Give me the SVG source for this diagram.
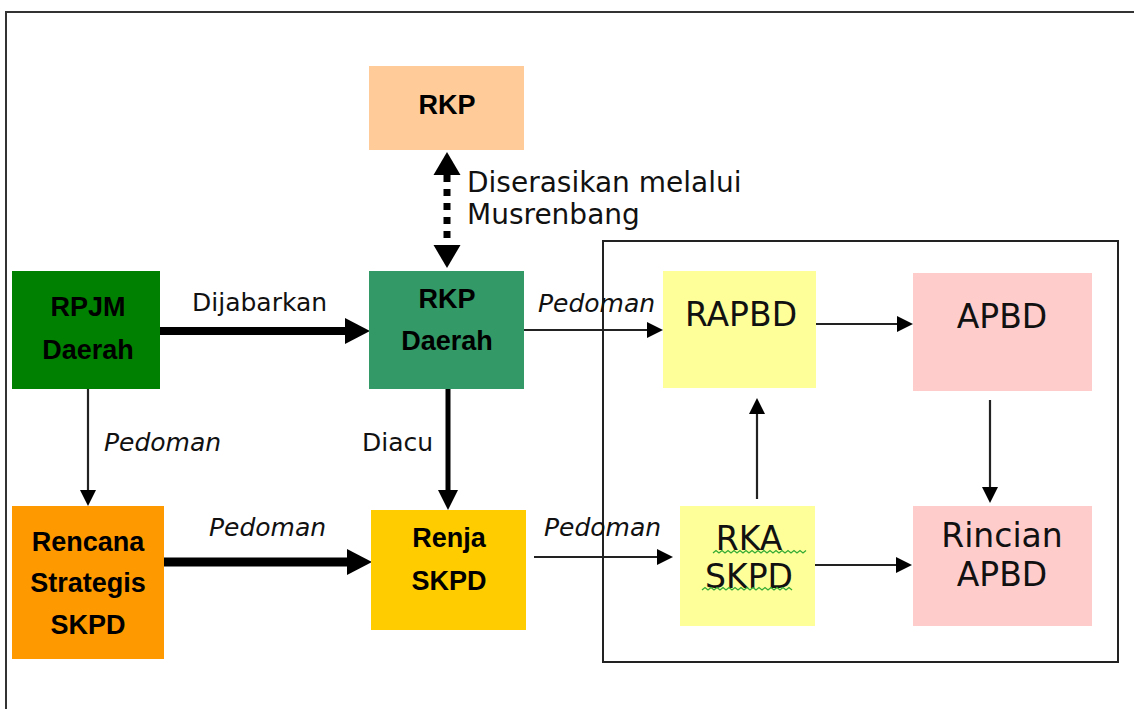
<svg xmlns="http://www.w3.org/2000/svg" width="1134" height="709" viewBox="0 0 1134 709">
<style>
.bx{stroke:none}
.bl{font-family:"Liberation Sans",Arial,sans-serif;font-weight:bold;font-size:27px;fill:#000;text-anchor:middle}
.rg{font-family:"DejaVu Sans",Verdana,sans-serif;font-size:33px;fill:#111;text-anchor:middle}
.lb{font-family:"DejaVu Sans",Verdana,sans-serif;font-size:25px;fill:#111}
.it{font-family:"DejaVu Sans",Verdana,sans-serif;font-size:25px;font-style:italic;fill:#111}
.thin{stroke:#222;stroke-width:2.2;fill:none;marker-end:url(#ms)}
.sq{stroke:#3a3;stroke-width:1.3;fill:none}
</style>
<defs>
<marker id="ms" markerUnits="userSpaceOnUse" viewBox="0 -8 16 16" markerWidth="16" markerHeight="16" refX="0" refY="0" orient="auto"><path d="M0,-8 L16,0 L0,8 z" fill="#000"/></marker>
<marker id="mm" markerUnits="userSpaceOnUse" viewBox="0 -10 20 20" markerWidth="20" markerHeight="20" refX="0" refY="0" orient="auto"><path d="M0,-10 L20,0 L0,10 z" fill="#000"/></marker>
<marker id="mb" markerUnits="userSpaceOnUse" viewBox="0 -13 25 26" markerWidth="25" markerHeight="26" refX="0" refY="0" orient="auto"><path d="M0,-13 L25,0 L0,13 z" fill="#000"/></marker>
<marker id="md" markerUnits="userSpaceOnUse" viewBox="0 -14 23 28" markerWidth="23" markerHeight="28" refX="0" refY="0" orient="auto-start-reverse"><path d="M0,-13.5 L23,0 L0,13.5 z" fill="#000"/></marker>
</defs>
<rect x="0" y="0" width="1134" height="709" fill="#fff"/>
<rect x="6" y="12" width="1200" height="800" fill="none" stroke="#333" stroke-width="2"/>
<rect id="frame" x="603" y="241" width="515" height="421" fill="none" stroke="#222" stroke-width="2"/>

<g id="connectors">
<line x1="447" y1="175" x2="447" y2="245" stroke="#000" stroke-width="7" stroke-dasharray="7 7" marker-start="url(#md)" marker-end="url(#md)"/>
<line x1="160" y1="331" x2="345" y2="331" stroke="#000" stroke-width="8" marker-end="url(#mb)"/>
<line class="thin" x1="524" y1="330" x2="647" y2="330"/>
<line class="thin" x1="816" y1="324" x2="897" y2="324"/>
<line class="thin" x1="88" y1="389" x2="88" y2="490"/>
<line x1="448" y1="389" x2="448" y2="490" stroke="#000" stroke-width="5" marker-end="url(#mm)"/>
<line x1="164" y1="562" x2="347" y2="562" stroke="#000" stroke-width="9" marker-end="url(#mb)"/>
<line class="thin" x1="534" y1="557" x2="657" y2="557"/>
<line class="thin" x1="757" y1="499" x2="757" y2="414"/>
<line class="thin" x1="815" y1="565" x2="896" y2="565"/>
<line class="thin" x1="990" y1="400" x2="990" y2="487"/>
<text class="lb" x="192" y="311">Dijabarkan</text>
<text class="it" x="538" y="312">Pedoman</text>
<text class="it" x="104" y="451">Pedoman</text>
<text class="lb" x="362" y="451">Diacu</text>
<text class="it" x="209" y="536">Pedoman</text>
<text class="it" x="544" y="536">Pedoman</text>
<text class="lb" x="467" y="192" style="font-size:28px">Diserasikan melalui</text>
<text class="lb" x="467" y="224" style="font-size:28px">Musrenbang</text>
</g>

<g id="rkp"><rect class="bx" x="369" y="66" width="155" height="84" fill="#FFCC99"/><text class="bl" x="447" y="114">RKP</text></g>
<g id="rpjm"><rect class="bx" x="12" y="271" width="148" height="118" fill="#008000"/><text class="bl" x="88" y="316">RPJM</text><text class="bl" x="88" y="359">Daerah</text></g>
<g id="rkpd"><rect class="bx" x="369" y="271" width="155" height="118" fill="#339966"/><text class="bl" x="447" y="308">RKP</text><text class="bl" x="447" y="350">Daerah</text></g>
<g id="renstra"><rect class="bx" x="12" y="506" width="152" height="153" fill="#FF9900"/><text class="bl" x="88" y="551">Rencana</text><text class="bl" x="88" y="592">Strategis</text><text class="bl" x="88" y="634">SKPD</text></g>
<g id="renja"><rect class="bx" x="371" y="510" width="155" height="120" fill="#FFCC00"/><text class="bl" x="449" y="547">Renja</text><text class="bl" x="449" y="590">SKPD</text></g>
<g id="rapbd"><rect class="bx" x="663" y="271" width="153" height="117" fill="#FFFF99"/><text class="rg" x="741" y="326">RAPBD</text></g>
<g id="apbd"><rect class="bx" x="913" y="273" width="179" height="118" fill="#FFCCCC"/><text class="rg" x="1002" y="328">APBD</text></g>
<g id="rka"><rect class="bx" x="680" y="506" width="135" height="120" fill="#FFFF99"/><text class="rg" x="749" y="550">RKA</text><text class="rg" x="749" y="588">SKPD</text>
<path class="sq" d="M713,553 l3,-2.5 l3,2.5 l3,-2.5 l3,2.5 l3,-2.5 l3,2.5 l3,-2.5 l3,2.5 l3,-2.5 l3,2.5 l3,-2.5 l3,2.5 l3,-2.5 l3,2.5 l3,-2.5 l3,2.5 l3,-2.5 l3,2.5 l3,-2.5 l3,2.5 l3,-2.5 l3,2.5 l3,-2.5 l3,2.5 l3,-2.5 l3,2.5 l3,-2.5 l3,2.5 l3,-2.5 l3,2.5 l3,-2.5"/>
<path class="sq" d="M702,590 l3,-2.5 l3,2.5 l3,-2.5 l3,2.5 l3,-2.5 l3,2.5 l3,-2.5 l3,2.5 l3,-2.5 l3,2.5 l3,-2.5 l3,2.5 l3,-2.5 l3,2.5 l3,-2.5 l3,2.5 l3,-2.5 l3,2.5 l3,-2.5 l3,2.5 l3,-2.5 l3,2.5 l3,-2.5 l3,2.5 l3,-2.5 l3,2.5 l3,-2.5 l3,2.5 l3,-2.5 l3,2.5"/>
</g>
<g id="rincian"><rect class="bx" x="913" y="506" width="179" height="120" fill="#FFCCCC"/><text class="rg" x="1002" y="547">Rincian</text><text class="rg" x="1002" y="586">APBD</text></g>
</svg>
